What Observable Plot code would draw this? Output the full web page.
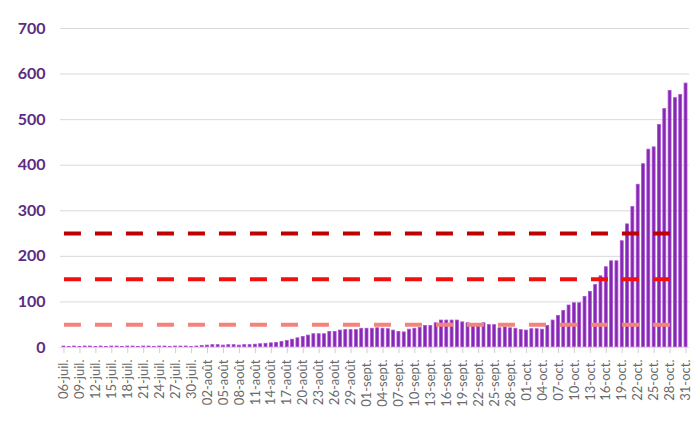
<!DOCTYPE html>
<html><head><meta charset="utf-8">
<script src="https://cdn.jsdelivr.net/npm/d3@7"></script>
<script src="https://cdn.jsdelivr.net/npm/@observablehq/plot@0.6"></script>
<style>body{margin:0;background:#fff;}#chart{width:700px;height:421px;overflow:hidden;}</style>
</head><body><div id="chart"></div>
<script>
// Category axis: daily dates, 06-juil. to 31-oct.
const months = [
  {name: "juil.", first: 6, last: 31},
  {name: "août", first: 1, last: 31},
  {name: "sept.", first: 1, last: 30},
  {name: "oct.", first: 1, last: 31}
];
const dates = [];
for (const m of months) for (let d = m.first; d <= m.last; d++) dates.push(String(d).padStart(2, "0") + "-" + m.name);

// Daily values
const values = [
  3,2,3,2,3,3,2,3,2,3,3,2,3,3,2,3,3,2,3,3,2,3,3,3,2,3,4,
  5,6,6,5,6,6,5,6,6,7,8,
  9,10,11,13,15,18,21,24,27,30,30,30,35,35,38,39,39,39,
  42,42,42,43,42,41,38,35,34,40,42,44,48,48,54,60,60,60,60,56,54,52,51,54,50,50,43,45,43,42,39,38,41,41,40,48,60,
  70,81,93,98,98,112,123,138,157,177,190,190,234,271,309,358,403,435,440,489,524,564,548,555,580
];

// Threshold lines
const thresholds = [250, 150, 50];
const thresholdColors = ["#c00000", "#f01010", "#f4837d"];
const thresholdStart = "06-juil.";
const thresholdEnd = "28-oct.";

const yTicks = [0, 100, 200, 300, 400, 500, 600, 700];
const xTicks = dates.filter((d, i) => i % 3 === 0);

const data = dates.map((d, i) => ({date: d, value: values[i]}));

const chart = Plot.plot({
  width: 700,
  height: 421,
  marginLeft: 60,
  marginRight: 11,
  marginTop: 28,
  marginBottom: 74,
  style: {fontFamily: "Lato, sans-serif", background: "#fff"},
  x: {type: "band", domain: dates, padding: 0.3, label: null},
  y: {domain: [0, 700], label: null},
  marks: [
    Plot.gridY(yTicks, {stroke: "#d9d9d9", strokeOpacity: 1, strokeWidth: 1}),
    Plot.axisY(yTicks, {tickSize: 0, tickPadding: 15, fontSize: 16, fontWeight: "bold", fill: "#5b2c83", label: null}),
    Plot.axisX(xTicks, {tickSize: 6, tickPadding: 6, tickRotate: -90, fontSize: 13, stroke: "#cfcfcf", fill: "#6a6a6a", label: null}),
    Plot.barY(data, {x: "date", y: "value", fill: "#8129b0", stroke: "#ad4fd2", strokeWidth: 0.8, inset: 0.4}),
    ...thresholds.map((t, k) => Plot.line(
      [{date: thresholdStart, y: t}, {date: thresholdEnd, y: t}],
      {x: "date", y: "y", stroke: thresholdColors[k], strokeWidth: 4, strokeDasharray: "17,14", strokeLinecap: "butt"}
    ))
  ]
});
document.getElementById("chart").appendChild(chart);
</script>
</body></html>
